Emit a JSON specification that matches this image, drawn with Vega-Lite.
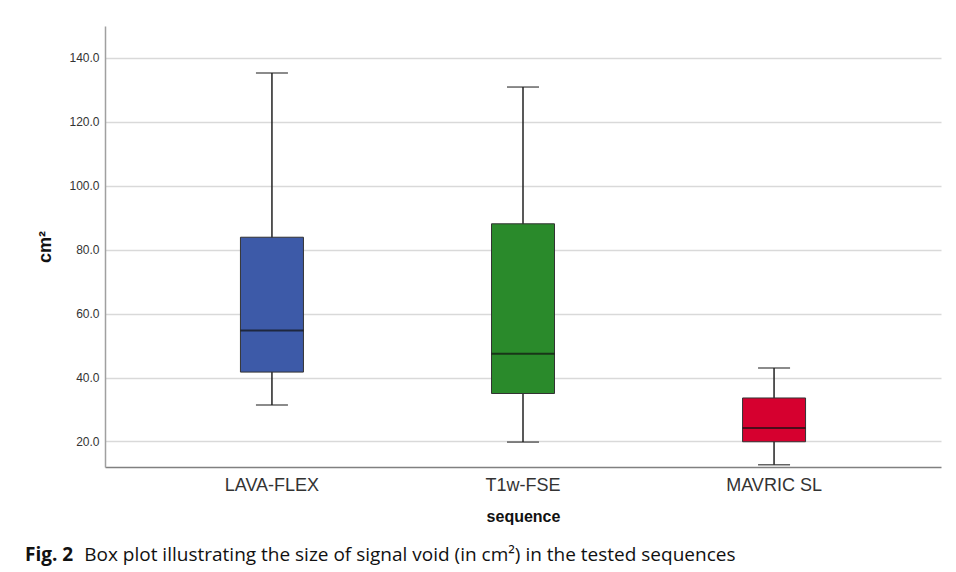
{
  "$schema": "https://vega.github.io/schema/vega-lite/v6.json",
  "width": 836,
  "height": 441,
  "autosize": {"type": "none"},
  "padding": {"left": 105, "top": 26, "right": 15, "bottom": 105},
  "background": "white",
  "config": {"view": {"stroke": null}},
  "title": {
    "text": "Fig. 2",
    "subtitle": "\u200b\u00a0\u00a0\u00a0\u00a0\u00a0\u00a0\u00a0\u00a0\u00a0\u00a0\u00a0\u00a0Box plot illustrating the size of signal void (in cm\u00b2) in the tested sequences",
    "orient": "bottom",
    "anchor": "start",
    "frame": "group",
    "dx": -80,
    "offset": 22,
    "font": "Open Sans",
    "fontSize": 19,
    "fontWeight": "bold",
    "color": "#111",
    "subtitleFont": "Open Sans",
    "subtitleFontSize": 19,
    "subtitleFontWeight": "normal",
    "subtitleColor": "#111",
    "subtitlePadding": -19
  },
  "data": {
    "values": [
      {"seq": "LAVA-FLEX", "lower": 31.4, "q1": 41.7, "median": 54.7, "q3": 83.9, "upper": 135.3},
      {"seq": "T1w-FSE", "lower": 19.8, "q1": 35.0, "median": 47.4, "q3": 88.1, "upper": 130.9},
      {"seq": "MAVRIC SL", "lower": 12.7, "q1": 19.9, "median": 24.2, "q3": 33.6, "upper": 43.0}
    ]
  },
  "encoding": {
    "x": {
      "field": "seq",
      "type": "nominal",
      "sort": ["LAVA-FLEX", "T1w-FSE", "MAVRIC SL"],
      "scale": {"type": "band", "paddingInner": 0, "paddingOuter": 0.165},
      "axis": {
        "title": "sequence",
        "labelAngle": 0,
        "labelFont": "Liberation Sans",
        "labelFontSize": 18,
        "labelColor": "#333",
        "labelPadding": 9,
        "ticks": false,
        "domainColor": "#808080",
        "domainWidth": 1.5,
        "titleFont": "Liberation Sans",
        "titleFontSize": 16,
        "titleFontWeight": "bold",
        "titleColor": "#111",
        "titlePadding": 14
      }
    }
  },
  "layer": [
    {
      "mark": {"type": "rule", "color": "#222", "strokeWidth": 1.5},
      "encoding": {
        "y": {
          "field": "lower",
          "type": "quantitative",
          "scale": {"domain": [12, 150], "nice": false, "zero": false},
          "axis": {
            "title": "cm\u00b2",
            "values": [20, 40, 60, 80, 100, 120, 140],
            "format": ".1f",
            "grid": true,
            "gridColor": "#d9d9d9",
            "gridWidth": 1.5,
            "ticks": false,
            "labelPadding": 6,
            "labelFont": "Liberation Sans",
            "labelFontSize": 12,
            "labelColor": "#333",
            "domainColor": "#a0a0a0",
            "domainWidth": 1.5,
            "titleFont": "Liberation Sans",
            "titleFontSize": 18,
            "titleFontWeight": "bold",
            "titleColor": "#111",
            "titlePadding": 14
          }
        },
        "y2": {"field": "upper"}
      }
    },
    {
      "mark": {"type": "tick", "color": "#222", "size": 32, "thickness": 1.5},
      "encoding": {"y": {"field": "lower", "type": "quantitative"}}
    },
    {
      "mark": {"type": "tick", "color": "#222", "size": 32, "thickness": 1.5},
      "encoding": {"y": {"field": "upper", "type": "quantitative"}}
    },
    {
      "mark": {"type": "bar", "size": 63, "stroke": "#333", "strokeWidth": 1},
      "encoding": {
        "y": {"field": "q1", "type": "quantitative"},
        "y2": {"field": "q3"},
        "color": {
          "field": "seq",
          "type": "nominal",
          "scale": {"domain": ["LAVA-FLEX", "T1w-FSE", "MAVRIC SL"], "range": ["#3D5AA8", "#2A8A2B", "#D6002F"]},
          "legend": null
        }
      }
    },
    {
      "mark": {"type": "tick", "color": "#111", "size": 63, "thickness": 2},
      "encoding": {"y": {"field": "median", "type": "quantitative"}}
    }
  ]
}
